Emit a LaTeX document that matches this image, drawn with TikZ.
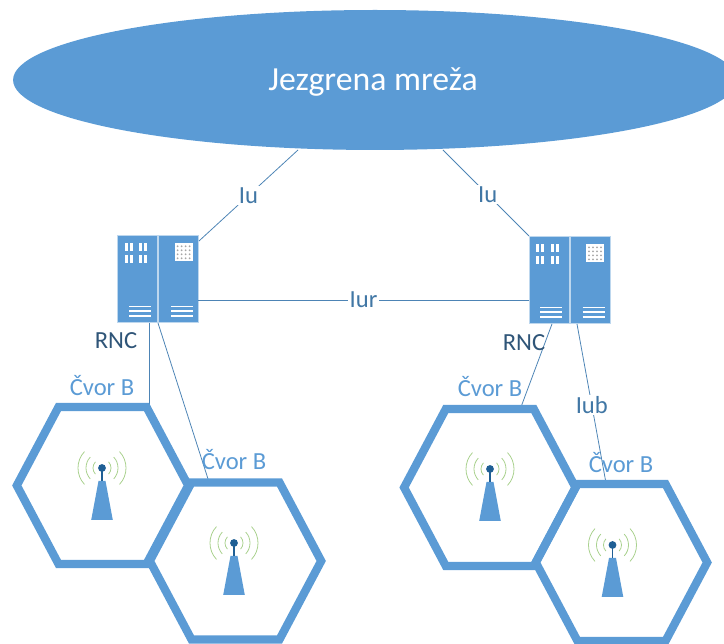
\documentclass[tikz,border=0pt]{standalone}
\usepackage{fontspec}
\setmainfont{Carlito}
\usetikzlibrary{shapes.geometric}
\definecolor{cellblue}{HTML}{5B9BD5}
\definecolor{darkblue}{HTML}{1F5F95}
\definecolor{rnctext}{HTML}{2F5578}
\definecolor{wavegreen}{HTML}{A9D18E}
\tikzset{
  link/.style={cellblue!85!black,line width=0.45pt},
  iflabel/.style={fill=white,inner sep=1pt,text=darkblue!85,font=\fontsize{14}{16}\selectfont},
  rnclabel/.style={text=rnctext,font=\fontsize{14}{16}\selectfont},
  celllabel/.style={text=cellblue,font=\fontsize{14}{16}\selectfont},
  panel/.style={fill=cellblue,draw=cellblue!40,line width=0.3pt,minimum width=22.8pt,minimum height=49.6pt,inner sep=0pt},
  cellhex/.pic={
    \draw[cellblue,line width=4.7pt,miter limit=3] (-85.7,0) -- (-44,78.5) -- (44,78.5) -- (85.7,0) -- (44,-78.5) -- (-44,-78.5) -- cycle;
  },
  antenna/.pic={
    \fill[cellblue] (-3.5,-13) -- (3.5,-13) -- (10.8,-52) -- (-10.8,-52) -- cycle;
    \draw[darkblue,line width=1.1pt] (0,0) -- (0,-13);
    \fill[darkblue] (0,0) circle (3.9);
    \foreach \r in {9,16,24} {
      \draw[wavegreen,line width=0.45pt] (0,0) ++(137:\r) arc[start angle=137,end angle=223,radius=\r];
      \draw[wavegreen,line width=0.45pt] (0,0) ++(43:\r) arc[start angle=43,end angle=-43,radius=\r];
    }
  },
  bars/.pic={
    \foreach \y in {0,4.8,9.6}
      \draw[white,line width=1pt] (-11,\y) -- (11,\y);
  },
  slots/.pic={
    \foreach \x in {0,5,14.5,19.5}
      \foreach \y in {0,-12}
        \fill[white] (\x,\y) rectangle ++(3,-8);
  },
  dotgrid/.pic={
    \fill[white] (0,0) rectangle (18,-18);
    \foreach \x in {3,7,11,15}
      \foreach \y in {-3,-7,-11,-15}
        \fill[gray!70] (\x,\y) circle (1);
  }
}
\begin{document}
\begin{tikzpicture}[x=0.02cm,y=0.02cm]
    \useasboundingbox (0,0) rectangle (724,644);
    \node[ellipse,fill=cellblue,inner sep=0pt,minimum width=14.48cm,minimum height=2.8cm] (core) at (375,564) {};
    \node[text=white,font=\fontsize{19.2}{22}\selectfont] (corelabel) at (373,561.5) {Jezgrena mreža};

    % left RNC
    \node[panel] (rncaleft) at (137,365) {};
    \node[panel] (rncaright) at (178,365) {};
    % right RNC
    \node[panel] (rncbleft) at (549,364) {};
    \node[panel] (rncbright) at (590,364) {};

    \coordinate (coreleft) at (298,494);
    \coordinate (coreright) at (443,494);
    \coordinate (rncaup) at (199,403);
    \coordinate (rncbup) at (529,408);
    \coordinate (rncaside) at (198,344);
    \coordinate (rncbside) at (529,344);
    \coordinate (rncaone) at (149,321);
    \coordinate (rncatwo) at (158,321);
    \coordinate (rncbone) at (552,320);
    \coordinate (rncbtwo) at (577,320);
    \coordinate (hexatop) at (149,237);
    \coordinate (hexbtop) at (209,162);
    \coordinate (hexctop) at (521,237);
    \coordinate (hexdtop) at (606,161);

    \draw[link] (coreleft) -- node[iflabel,pos=0.5] {Iu} (rncaup);
    \draw[link] (coreright) -- node[iflabel,pos=0.52] {Iu} (rncbup);
    \draw[link] (rncaside) -- node[iflabel,pos=0.5] {Iur} (rncbside);
    \draw[link] (rncaone) -- (hexatop);
    \draw[link] (rncatwo) -- (hexbtop);
    \draw[link] (rncbone) -- (hexctop);
    \draw[link] (rncbtwo) -- node[iflabel,pos=0.51] {Iub} (hexdtop);

    \pic at (102.5,158.5) {cellhex};
    \pic at (235.5,83) {cellhex};
    \pic at (489.8,156.5) {cellhex};
    \pic at (621.5,81.5) {cellhex};

    \pic at (102,176) {antenna};
    \pic at (234,101) {antenna};
    \pic at (490,175) {antenna};
    \pic at (612.5,99) {antenna};

    \pic at (140,328) {bars};
    \pic at (182,328) {bars};
    \pic at (551,327) {bars};
    \pic at (593.5,327) {bars};
    \pic at (174.7,400.7) {dotgrid};
    \pic at (586,399.7) {dotgrid};
    \pic at (124.5,401) {slots};
    \pic at (536,400) {slots};

    \node[rnclabel] (rnca) at (116,303) {RNC};
    \node[rnclabel] (rncb) at (524,301) {RNC};
    \node[celllabel] (nodea) at (102,258) {Čvor B};
    \node[celllabel] (nodeb) at (234,184) {Čvor B};
    \node[celllabel] (nodec) at (490,257) {Čvor B};
    \node[celllabel] (noded) at (621,181) {Čvor B};
\end{tikzpicture}
\end{document}
